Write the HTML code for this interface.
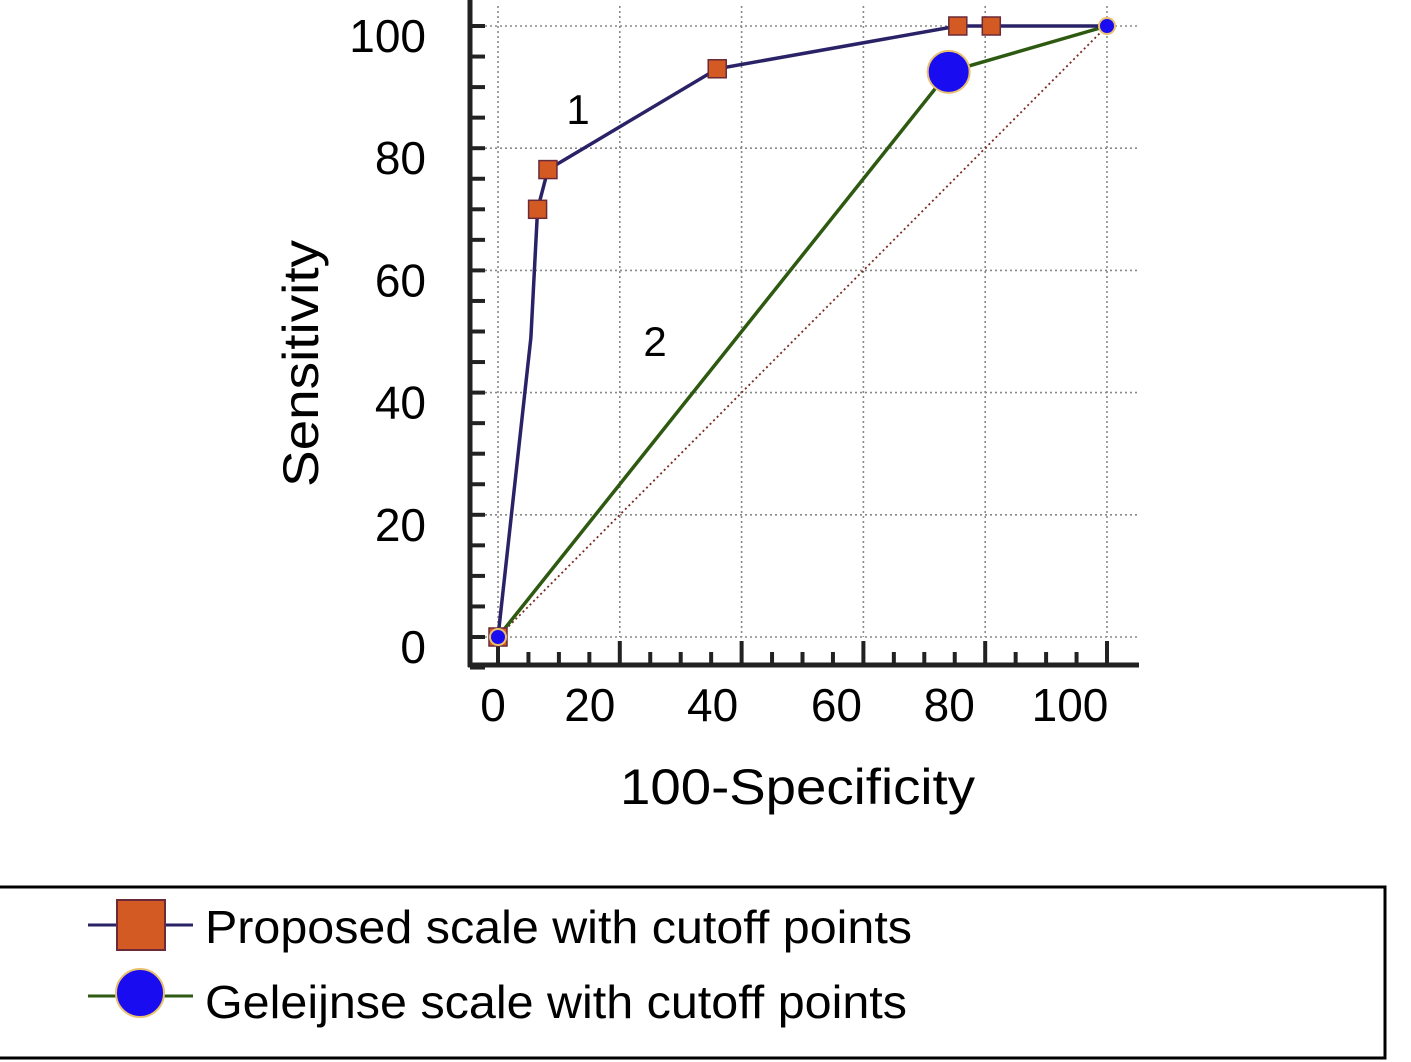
<!DOCTYPE html>
<html><head><meta charset="utf-8"><style>
html,body{margin:0;padding:0;background:#fff;}
svg{display:block;font-family:"Liberation Sans",Arial,sans-serif;}
</style></head><body>
<svg id="chart" width="1411" height="1062" viewBox="0 0 1411 1062">
<g id="grid"></g>
<line x1="498" y1="637" x2="1107" y2="26" stroke="#7a2a20" stroke-width="1.8" stroke-dasharray="2,3"/>
<g id="axes"></g>
<g id="series"></g>
<text x="578" y="124" font-size="42" text-anchor="middle">1</text>
<text x="655" y="356" font-size="42" text-anchor="middle">2</text>
<text x="620" y="804" font-size="50" textLength="355" lengthAdjust="spacingAndGlyphs">100-Specificity</text>
<text transform="translate(318,487) rotate(-90)" font-size="50" textLength="247" lengthAdjust="spacingAndGlyphs">Sensitivity</text>
<g>
<rect x="-3" y="887" width="1388" height="171" fill="none" stroke="#000" stroke-width="3"/>
<g>
<line x1="88" y1="925" x2="193" y2="925" stroke="#2a2266" stroke-width="3"/>
<rect x="117" y="900" width="48" height="50" fill="#d35a22" stroke="#6a2a3a" stroke-width="2"/>
<text x="205" y="943" font-size="46" textLength="707" lengthAdjust="spacingAndGlyphs">Proposed scale with cutoff points</text>
</g>
<g>
<line x1="88" y1="996" x2="193" y2="996" stroke="#2d5a10" stroke-width="3"/>
<circle cx="140" cy="993" r="24" fill="#1a0cf0" stroke="#e8c070" stroke-width="2"/>
<text x="205" y="1018" font-size="46" textLength="702" lengthAdjust="spacingAndGlyphs">Geleijnse scale with cutoff points</text>
</g>
</g>
</svg>
<script>
const xTicks=[0,20,40,60,80,100];
const yTicks=[0,20,40,60,80,100];
const proposedX=[0,5.4,6.5,8.2,36,75.5,81,100];
const proposedY=[0,49,70,76.5,93,100,100,100];
const proposedMarker=[1,0,1,1,1,1,1,0];
const geleijnseX=[0,74,100];
const geleijnseY=[0,92.5,100];
const geleijnseSize=[1,2,1];

const xLabelShift=[-5,-30,-29,-27,-36,-37];
const NS='http://www.w3.org/2000/svg';
const sx=v=>498+v*6.09;
const sy=v=>637-v*6.11;
function mk(tag,attrs,parent){const e=document.createElementNS(NS,tag);for(const k in attrs)e.setAttribute(k,attrs[k]);parent.appendChild(e);return e;}
const grid=document.getElementById('grid'),axes=document.getElementById('axes'),series=document.getElementById('series');
xTicks.forEach(t=>{
  const l=mk('line',{x1:sx(t),x2:sx(t),y1:sy(100)-20,y2:sy(0),stroke:'#888','stroke-width':1.6,'stroke-dasharray':'2,3'},grid);
  
  
});
yTicks.forEach(t=>{
  const l=mk('line',{x1:470,x2:1137,y1:sy(t),y2:sy(t),stroke:'#888','stroke-width':1.6,'stroke-dasharray':'2,3'},grid);
  
  
});
mk('line',{x1:470,y1:0,x2:470,y2:667,stroke:'#222','stroke-width':5},axes);
mk('line',{x1:468,y1:665,x2:1139,y2:665,stroke:'#222','stroke-width':5},axes);
for(let v=0;v<=100;v+=5){
  const major=v%20===0;
  mk('line',{x1:sx(v),x2:sx(v),y1:665,y2:major?641:652,stroke:'#222','stroke-width':4},axes);
}
for(let v=-5;v<=100;v+=5){
  mk('line',{x1:470,x2:485,y1:sy(v),y2:sy(v),stroke:'#222','stroke-width':4},axes);
}
xTicks.forEach((t,i)=>{
  const tx=mk('text',{x:sx(t)+xLabelShift[i],y:721,'font-size':46,'text-anchor':'middle'},axes);
  tx.textContent=t;
  
  
});
yTicks.forEach(t=>{
  const tx=mk('text',{x:426,y:sy(t)+26,'font-size':46,'text-anchor':'end'},axes);
  tx.textContent=t;
  
  
});
const gl=mk('polyline',{points:geleijnseX.map((x,i)=>sx(x)+','+sy(geleijnseY[i])).join(' '),fill:'none',stroke:'#2d5a10','stroke-width':3.5},series);


const pl=mk('polyline',{points:proposedX.map((x,i)=>sx(x)+','+sy(proposedY[i])).join(' '),fill:'none',stroke:'#2a2266','stroke-width':3.5},series);


proposedX.forEach((x,i)=>{
  if(!proposedMarker[i])return;
  const r=mk('rect',{x:sx(x)-9,y:sy(proposedY[i])-9,width:18,height:18,fill:'#d35a22',stroke:'#6a2a3a','stroke-width':1.5},series);
  
  
});
geleijnseX.forEach((x,i)=>{
  const c=mk('circle',{cx:sx(x),cy:sy(geleijnseY[i]),r:geleijnseSize[i]>1?21:8,fill:'#1a0cf0',stroke:'#e8c070','stroke-width':2},series);
  
  
});
</script>
</body></html>
